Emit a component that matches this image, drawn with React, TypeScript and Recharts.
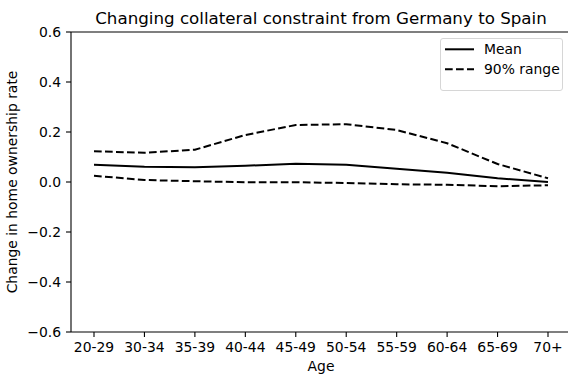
import React from 'react';
import { LineChart, Line, XAxis, YAxis, Legend, ReferenceLine } from 'recharts';

// age groups on the x axis
const ageGroups = ['20-29', '30-34', '35-39', '40-44', '45-49', '50-54', '55-59', '60-64', '65-69', '70+'];

// change in home ownership rate
const meanChange = [0.069, 0.061, 0.059, 0.065, 0.073, 0.069, 0.053, 0.037, 0.015, 0.0];
const upper90 = [0.123, 0.117, 0.129, 0.188, 0.228, 0.231, 0.208, 0.155, 0.072, 0.015];
const lower90 = [0.025, 0.008, 0.003, -0.001, -0.001, -0.004, -0.009, -0.011, -0.017, -0.013];

const yTicks = [-0.6, -0.4, -0.2, 0, 0.2, 0.4, 0.6];

const chartData = ageGroups.map((age, i) => ({
    age,
    mean: meanChange[i],
    upper: upper90[i],
    lower: lower90[i],
}));

const FONT = 'DejaVu Sans';
const DASH = '7.7 3.3';

const fmt = (v: number) => v.toFixed(1).replace('-', '\u2212');

const LegendBox = () => (
    <div
        style={{
            width: 123,
            height: 53,
            boxSizing: 'border-box',
            border: '1px solid #d6d6d6',
            borderRadius: 3,
            background: 'rgba(255,255,255,0.8)',
        }}
    >
        <svg width={121} height={51} style={{ display: 'block' }}>
            <line x1={4} x2={33} y1={10.3} y2={10.3} stroke="#000" strokeWidth={2} />
            <text x={43} y={15.3} fontFamily={FONT} fontSize={13.9} fill="#000">Mean</text>
            <line x1={4} x2={33} y1={30.3} y2={30.3} stroke="#000" strokeWidth={2} strokeDasharray={DASH} />
            <text x={43} y={35.3} fontFamily={FONT} fontSize={13.9} fill="#000">90% range</text>
        </svg>
    </div>
);

export default function App() {
    return (
        <div style={{ position: 'absolute', left: 0, top: 0, width: 568, height: 376, overflow: 'hidden', background: '#fff' }}>
            <LineChart width={571} height={376} data={chartData} margin={{ top: 32, right: 0, bottom: 0, left: 0 }}>
                <XAxis
                    dataKey="age"
                    height={44}
                    padding={{ left: 23, right: 23 }}
                    stroke="#000"
                    strokeWidth={1.1}
                    tickSize={5}
                    tickMargin={5}
                    interval={0}
                    tick={{ fill: '#000', fontFamily: FONT, fontSize: 13.9 }}
                    label={{
                        content: () => (
                            <text x={321} y={371} textAnchor="middle" fontFamily={FONT} fontSize={13.9} fill="#000">Age</text>
                        ),
                    }}
                />
                <YAxis
                    width={71}
                    domain={[-0.6, 0.6]}
                    ticks={yTicks}
                    tickFormatter={fmt}
                    stroke="#000"
                    strokeWidth={1.1}
                    tickSize={5}
                    tickMargin={5}
                    tick={{ fill: '#000', fontFamily: FONT, fontSize: 13.9 }}
                    label={{
                        content: () => (
                            <text
                                x={17.3}
                                y={182}
                                textAnchor="middle"
                                transform="rotate(-90, 17.3, 182)"
                                fontFamily={FONT}
                                fontSize={13.9}
                                fill="#000"
                            >
                                Change in home ownership rate
                            </text>
                        ),
                    }}
                />
                {/* top spine, with the title above it */}
                <ReferenceLine
                    y={0.6}
                    stroke="#000"
                    strokeWidth={1.1}
                    label={{
                        content: () => (
                            <text x={321} y={24} textAnchor="middle" fontFamily={FONT} fontSize={16.7} fill="#000">
                                Changing collateral constraint from Germany to Spain
                            </text>
                        ),
                    }}
                />
                <Line type="linear" dataKey="mean" name="Mean" stroke="#000" strokeWidth={2} dot={false} isAnimationActive={false} />
                <Line type="linear" dataKey="upper" name="90% range" stroke="#000" strokeWidth={2} strokeDasharray={DASH} dot={false} isAnimationActive={false} />
                <Line type="linear" dataKey="lower" stroke="#000" strokeWidth={2} strokeDasharray={DASH} dot={false} legendType="none" isAnimationActive={false} />
                <Legend
                    layout="vertical"
                    align="center"
                    verticalAlign="middle"
                    content={() => <LegendBox />}
                    wrapperStyle={{ top: 38, left: 440, width: 123, height: 53 }}
                />
            </LineChart>
        </div>
    );
}
